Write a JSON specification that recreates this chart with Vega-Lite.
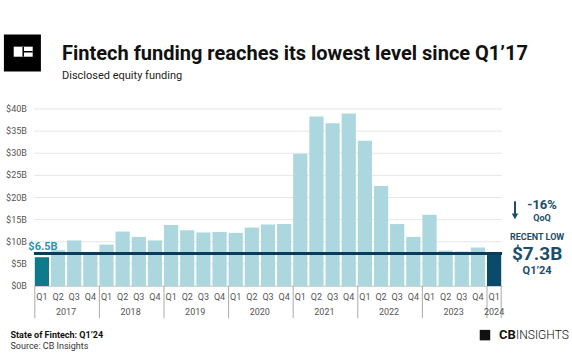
{
  "$schema": "https://vega.github.io/schema/vega-lite/v6.json",
  "autosize": "none",
  "width": 468,
  "height": 177,
  "padding": {"left": 34, "top": 109, "right": 70, "bottom": 78},
  "background": "white",
  "config": {
    "font": "Roboto",
    "view": {"stroke": null}
  },
  "resolve": {"axis": {"y": "independent"}},
  "title": {
    "text": "Fintech funding reaches its lowest level since Q1’17",
    "subtitle": "Disclosed equity funding",
    "anchor": "start",
    "frame": "group",
    "dx": 28,
    "offset": -46,
    "font": "Roboto",
    "fontSize": 20,
    "fontWeight": "bold",
    "color": "#111111",
    "subtitleFont": "Roboto",
    "subtitleFontSize": 11,
    "subtitleColor": "#222222",
    "subtitlePadding": 6
  },
  "datasets": {
    "funding": [
      {"q": "2017 Q1", "v": 6.5}, {"q": "2017 Q2", "v": 8.1}, {"q": "2017 Q3", "v": 10.3}, {"q": "2017 Q4", "v": 7.7},
      {"q": "2018 Q1", "v": 9.35}, {"q": "2018 Q2", "v": 12.3}, {"q": "2018 Q3", "v": 11.1}, {"q": "2018 Q4", "v": 10.3},
      {"q": "2019 Q1", "v": 13.8}, {"q": "2019 Q2", "v": 12.6}, {"q": "2019 Q3", "v": 12.1}, {"q": "2019 Q4", "v": 12.2},
      {"q": "2020 Q1", "v": 12.0}, {"q": "2020 Q2", "v": 13.2}, {"q": "2020 Q3", "v": 13.9}, {"q": "2020 Q4", "v": 14.0},
      {"q": "2021 Q1", "v": 29.9}, {"q": "2021 Q2", "v": 38.3}, {"q": "2021 Q3", "v": 36.8}, {"q": "2021 Q4", "v": 39.0},
      {"q": "2022 Q1", "v": 32.8}, {"q": "2022 Q2", "v": 22.6}, {"q": "2022 Q3", "v": 14.0}, {"q": "2022 Q4", "v": 11.1},
      {"q": "2023 Q1", "v": 16.1}, {"q": "2023 Q2", "v": 8.0}, {"q": "2023 Q3", "v": 7.8}, {"q": "2023 Q4", "v": 8.7},
      {"q": "2024 Q1", "v": 7.3}
    ],
    "ticks": [
      {"t": 0, "lab": "$0B"}, {"t": 5, "lab": "$5B"}, {"t": 10, "lab": "$10B"}, {"t": 15, "lab": "$15B"},
      {"t": 20, "lab": "$20B"}, {"t": 25, "lab": "$25B"}, {"t": 30, "lab": "$30B"}, {"t": 35, "lab": "$35B"},
      {"t": 40, "lab": "$40B"}
    ]
  },
  "data": {"name": "funding"},
  "layer": [
    {
      "data": {"name": "ticks"},
      "mark": {"type": "rule", "color": "#e6e6e6", "strokeWidth": 1},
      "encoding": {"y": {"field": "t", "type": "quantitative", "axis": null}}
    },
    {
      "mark": {"type": "bar"},
      "encoding": {
        "x": {
          "field": "q", "type": "ordinal", "sort": null,
          "scale": {"paddingInner": 0.12, "paddingOuter": 0.05},
          "axis": {
            "title": "State of Fintech: Q1’24",
            "titleFont": "Roboto", "titleFontSize": 9, "titleFontWeight": "bold", "titleColor": "#111111",
            "titleAnchor": "start", "titleAlign": "left", "titleBaseline": "middle",
            "titleX": -24, "titleY": 48,
            "labelExpr": "split(datum.label, ' ')[1]",
            "labelAngle": 0, "labelFontSize": 9, "labelColor": "#555555", "labelPadding": 6,
            "ticks": false, "tickSize": 0, "domainColor": "#bbbbbb"
          }
        },
        "y": {
          "field": "v", "type": "quantitative",
          "scale": {"domain": [0, 40]},
          "axis": {
            "title": "Source: CB Insights",
            "titleFont": "Roboto", "titleFontSize": 9, "titleFontWeight": "normal", "titleColor": "#333333",
            "titleAngle": 0, "titleAlign": "left", "titleBaseline": "middle",
            "titleX": -24, "titleY": 236,
            "labels": false, "grid": false, "ticks": false, "domain": false
          }
        },
        "color": {
          "condition": [
            {"test": "datum.q == '2017 Q1'", "value": "#0e7a8c"},
            {"test": "datum.q == '2024 Q1'", "value": "#0b4a68"}
          ],
          "value": "#acd7df"
        }
      }
    },
    {
      "data": {"name": "ticks"},
      "mark": {"type": "text", "fontSize": 9, "color": "#555555", "align": "right", "baseline": "middle", "dx": -15},
      "encoding": {
        "x": {"datum": "2017 Q1", "type": "ordinal"},
        "y": {"field": "t", "type": "quantitative", "axis": null},
        "text": {"field": "lab"}
      }
    },
    {
      "transform": [{"filter": "indexof(datum.q, 'Q1') >= 0"}],
      "mark": {"type": "rule", "color": "#aaaaaa", "strokeWidth": 1},
      "encoding": {
        "x": {"field": "q", "type": "ordinal", "sort": null, "bandPosition": 0},
        "y": {"datum": 0, "axis": null},
        "y2": {"datum": -7.3}
      }
    },
    {
      "transform": [{"filter": "datum.q == '2024 Q1'"}],
      "mark": {"type": "rule", "color": "#aaaaaa", "strokeWidth": 1},
      "encoding": {
        "x": {"field": "q", "type": "ordinal", "sort": null, "bandPosition": 1},
        "y": {"datum": 0, "axis": null},
        "y2": {"datum": -7.3}
      }
    },
    {
      "transform": [
        {"filter": "indexof(datum.q, 'Q2') >= 0"},
        {"calculate": "substring(datum.q, 0, 4)", "as": "yr"}
      ],
      "mark": {"type": "text", "fontSize": 9, "color": "#555555", "baseline": "middle"},
      "encoding": {
        "x": {"field": "q", "type": "ordinal", "sort": null, "bandPosition": 1.06},
        "y": {"datum": -5.8, "axis": null},
        "text": {"field": "yr"}
      }
    },
    {
      "transform": [
        {"filter": "datum.q == '2024 Q1'"},
        {"calculate": "substring(datum.q, 0, 4)", "as": "yr"}
      ],
      "mark": {"type": "text", "fontSize": 9, "color": "#555555", "baseline": "middle"},
      "encoding": {
        "x": {"field": "q", "type": "ordinal", "sort": null, "bandPosition": 0.5},
        "y": {"datum": -5.8, "axis": null},
        "text": {"field": "yr"}
      }
    },
    {
      "mark": {"type": "rule", "color": "#0b3d5a", "strokeWidth": 2},
      "encoding": {"y": {"datum": 7.3, "axis": null}}
    },
    {
      "transform": [{"filter": "datum.q == '2017 Q1'"}],
      "mark": {"type": "text", "fontSize": 11, "fontWeight": "bold", "color": "#2a93ab", "baseline": "bottom", "dy": -2, "dx": 1},
      "encoding": {
        "x": {"field": "q", "type": "ordinal", "sort": null},
        "y": {"datum": 7.3, "axis": null},
        "text": {"value": "$6.5B"}
      }
    },
    {
      "transform": [{"filter": "datum.q == '2024 Q1'"}],
      "resolve": {"axis": {"y": "independent"}},
      "layer": [
        {
          "mark": {"type": "text", "fontSize": 13, "fontWeight": "bold", "color": "#1e4d6b", "baseline": "middle", "dx": 48},
          "encoding": {"x": {"field": "q", "type": "ordinal", "sort": null}, "y": {"datum": 18.3, "axis": null}, "text": {"value": "-16%"}}
        },
        {
          "mark": {"type": "text", "fontSize": 9, "fontWeight": "bold", "color": "#1e4d6b", "baseline": "middle", "dx": 48},
          "encoding": {"x": {"field": "q", "type": "ordinal", "sort": null}, "y": {"datum": 15.4, "axis": null}, "text": {"value": "QoQ"}}
        },
        {
          "mark": {"type": "point", "shape": "M0,-1L0,0.45", "filled": false, "size": 324, "stroke": "#1e4d6b", "strokeWidth": 2, "opacity": 1},
          "encoding": {"x": {"field": "q", "type": "ordinal", "sort": null}, "xOffset": {"value": 28}, "y": {"datum": 17.1, "axis": null}}
        },
        {
          "mark": {"type": "point", "shape": "M-0.36,0.35L0.36,0.35L0,1Z", "filled": true, "size": 324, "color": "#1e4d6b", "opacity": 1},
          "encoding": {"x": {"field": "q", "type": "ordinal", "sort": null}, "xOffset": {"value": 28}, "y": {"datum": 17.1, "axis": null}}
        },
        {
          "mark": {"type": "text", "fontSize": 9, "fontWeight": "bold", "color": "#1e4d6b", "baseline": "middle", "dx": 43},
          "encoding": {"x": {"field": "q", "type": "ordinal", "sort": null}, "y": {"datum": 11.1, "axis": null}, "text": {"value": "RECENT LOW"}}
        },
        {
          "mark": {"type": "text", "fontSize": 19, "fontWeight": "bold", "color": "#1e4d6b", "baseline": "middle", "dx": 43},
          "encoding": {"x": {"field": "q", "type": "ordinal", "sort": null}, "y": {"datum": 7.3, "axis": null}, "text": {"value": "$7.3B"}}
        },
        {
          "mark": {"type": "text", "fontSize": 11, "fontWeight": "bold", "color": "#1e4d6b", "baseline": "middle", "dx": 43},
          "encoding": {"x": {"field": "q", "type": "ordinal", "sort": null}, "y": {"datum": 3.46, "axis": null}, "text": {"value": "Q1’24"}}
        },
        {
          "mark": {"type": "point", "shape": "square", "filled": true, "size": 110, "color": "#111111", "opacity": 1},
          "encoding": {"x": {"field": "q", "type": "ordinal", "sort": null}, "xOffset": {"value": -2}, "y": {"datum": -11.1, "axis": null}}
        },
        {
          "mark": {"type": "text", "fontSize": 13, "fontWeight": "bold", "color": "#111111", "baseline": "middle", "align": "left", "dx": 5},
          "encoding": {"x": {"field": "q", "type": "ordinal", "sort": null}, "y": {"datum": -11.1, "axis": null}, "text": {"value": "CB"}}
        },
        {
          "mark": {"type": "text", "fontSize": 12, "fontWeight": 300, "color": "#111111", "baseline": "middle", "align": "left", "dx": 22},
          "encoding": {"x": {"field": "q", "type": "ordinal", "sort": null}, "y": {"datum": -11.1, "axis": null}, "text": {"value": "INSIGHTS"}}
        }
      ]
    },
    {
      "transform": [{"filter": "datum.q == '2017 Q1'"}],
      "resolve": {"axis": {"y": "independent"}},
      "layer": [
        {
          "mark": {"type": "point", "shape": "square", "filled": true, "size": 1369, "color": "#000000", "opacity": 1},
          "encoding": {"x": {"field": "q", "type": "ordinal", "sort": null}, "xOffset": {"value": -12.4}, "y": {"datum": 52.65, "axis": null}}
        },
        {
          "mark": {"type": "point", "shape": "M-1,-0.53L1,-0.53L1,0.53L-1,0.53Z", "filled": true, "size": 361, "color": "#ffffff", "opacity": 1},
          "encoding": {"x": {"field": "q", "type": "ordinal", "sort": null}, "xOffset": {"value": -11.6}, "y": {"datum": 52.95, "axis": null}}
        },
        {
          "mark": {"type": "point", "shape": "M0,-0.53L0,0.53M0,0L1,0", "filled": false, "size": 361, "stroke": "#000000", "strokeWidth": 1.5, "opacity": 1},
          "encoding": {"x": {"field": "q", "type": "ordinal", "sort": null}, "xOffset": {"value": -11.6}, "y": {"datum": 52.95, "axis": null}}
        }
      ]
    }
  ]
}
